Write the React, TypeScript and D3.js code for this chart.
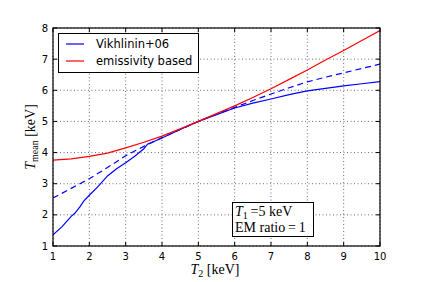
import * as d3 from "d3";

// T2 values (keV) and mean temperatures
const vikhX = [1, 1.25, 1.5, 1.6, 1.75, 1.85, 2, 2.25, 2.5, 2.75, 3, 3.25, 3.5, 3.6, 4, 4.5, 5, 5.5, 6, 6.5, 7, 7.5, 8, 8.5, 9, 9.5, 10];
const vikhSolid = [1.36, 1.62, 1.95, 2.05, 2.27, 2.45, 2.63, 2.92, 3.25, 3.48, 3.67, 3.88, 4.12, 4.27, 4.47, 4.74, 5.0, 5.22, 5.43, 5.59, 5.72, 5.86, 5.98, 6.06, 6.14, 6.21, 6.28];

const dashX = [1, 1.5, 2, 2.5, 3, 3.5, 4, 4.5, 5, 5.5, 6, 6.5, 7, 7.5, 8, 8.5, 9, 9.5, 10];
const vikhDashed = [2.54, 2.85, 3.16, 3.52, 3.9, 4.2, 4.48, 4.74, 5.0, 5.23, 5.45, 5.67, 5.88, 6.08, 6.27, 6.42, 6.56, 6.7, 6.84];

const emisX = [1, 1.5, 2, 2.5, 3, 3.5, 4, 4.5, 5, 5.5, 6, 6.5, 7, 7.5, 8, 8.5, 9, 9.5, 10];
const emissivity = [3.76, 3.8, 3.88, 3.98, 4.15, 4.33, 4.53, 4.76, 5.0, 5.25, 5.5, 5.77, 6.05, 6.35, 6.65, 6.97, 7.28, 7.6, 7.92];

const xTicks = [1, 2, 3, 4, 5, 6, 7, 8, 9, 10];
const yTicks = [1, 2, 3, 4, 5, 6, 7, 8];

const legendItems = [
  { label: "Vikhlinin+06", color: "#0000ff" },
  { label: "emissivity based", color: "#ff0000" },
];

const W = 423;
const H = 282;
const m = { left: 53, right: 43, top: 28, bottom: 36 };

export default function App() {
  const x = d3.scaleLinear().domain([1, 10]).range([m.left, W - m.right]);
  const y = d3.scaleLinear().domain([1, 8]).range([H - m.bottom, m.top]);
  const line = d3
    .line<[number, number]>()
    .x((d) => x(d[0]))
    .y((d) => y(d[1]));

  const pts = (xs: number[], ys: number[]) =>
    xs.map((v, i) => [v, ys[i]] as [number, number]);

  const sans = "'DejaVu Sans', sans-serif";
  const serif = "'Liberation Serif', 'DejaVu Serif', serif";
  const x0 = m.left;
  const x1 = W - m.right;
  const y0 = H - m.bottom;
  const y1 = m.top;

  return (
    <div style={{ position: "fixed", left: 0, top: 0 }}>
      <svg width={W} height={H} style={{ display: "block", background: "#fff" }}>
        <defs>
          <clipPath id="plot">
            <rect x={x0} y={y1} width={x1 - x0} height={y0 - y1} />
          </clipPath>
        </defs>

        {/* grid */}
        {xTicks.map((t) => (
          <line key={"gx" + t} x1={x(t)} x2={x(t)} y1={y1} y2={y0} stroke="#333" strokeWidth={0.7} strokeDasharray="1,2.5" />
        ))}
        {yTicks.map((t) => (
          <line key={"gy" + t} x1={x0} x2={x1} y1={y(t)} y2={y(t)} stroke="#333" strokeWidth={0.7} strokeDasharray="1,2.5" />
        ))}

        {/* curves */}
        <g clipPath="url(#plot)" fill="none" strokeWidth={1.2}>
          <path d={line(pts(dashX, vikhDashed)) ?? ""} stroke="#0000ff" strokeDasharray="6,4" />
          <path d={line(pts(vikhX, vikhSolid)) ?? ""} stroke="#0000ff" />
          <path d={line(pts(emisX, emissivity)) ?? ""} stroke="#ff0000" />
        </g>

        {/* ticks, inward on all sides */}
        {xTicks.map((t) => (
          <g key={"tx" + t}>
            <line x1={x(t)} x2={x(t)} y1={y0} y2={y0 - 4} stroke="#000" />
            <line x1={x(t)} x2={x(t)} y1={y1} y2={y1 + 4} stroke="#000" />
            <text x={x(t)} y={y0 + 14} textAnchor="middle" fontFamily={sans} fontSize={10}>
              {t}
            </text>
          </g>
        ))}
        {yTicks.map((t) => (
          <g key={"ty" + t}>
            <line x1={x0} x2={x0 + 4} y1={y(t)} y2={y(t)} stroke="#000" />
            <line x1={x1} x2={x1 - 4} y1={y(t)} y2={y(t)} stroke="#000" />
            <text x={x0 - 5} y={y(t) + 3.5} textAnchor="end" fontFamily={sans} fontSize={10}>
              {t}
            </text>
          </g>
        ))}

        <rect x={x0} y={y1} width={x1 - x0} height={y0 - y1} fill="none" stroke="#000" strokeWidth={1.2} />

        {/* axis labels */}
        <text x={215} y={274} textAnchor="middle" fontFamily={serif} fontSize={14}>
          <tspan fontStyle="italic">T</tspan>
          <tspan fontSize={10} dy={3}>2</tspan>
          <tspan dy={-3}> [keV]</tspan>
        </text>
        <text transform={`translate(35,${(y0 + y1) / 2}) rotate(-90)`} textAnchor="middle" fontFamily={serif} fontSize={14}>
          <tspan fontStyle="italic">T</tspan>
          <tspan fontSize={10} dy={3}>mean</tspan>
          <tspan dy={-3}> [keV]</tspan>
        </text>

        {/* legend */}
        <rect x={58.5} y={33.5} width={140} height={39} fill="#fff" stroke="#000" strokeWidth={1} />
        {legendItems.map((d, i) => (
          <g key={d.label}>
            <line x1={66} x2={84} y1={44 + i * 17} y2={44 + i * 17} stroke={d.color} strokeWidth={1.2} />
            <text x={96} y={48 + i * 17} fontFamily={sans} fontSize={11.5}>
              {d.label}
            </text>
          </g>
        ))}

        {/* annotation */}
        <rect x={232.5} y={202.5} width={81} height={34} fill="#fff" stroke="#000" strokeWidth={1} />
        <text x={235} y={216} fontFamily={serif} fontSize={14}>
          <tspan fontStyle="italic">T</tspan>
          <tspan fontSize={10} dy={3}>1</tspan>
          <tspan dy={-3}>{"\u2009=5 keV"}</tspan>
        </text>
        <text x={235} y={232} fontFamily={serif} fontSize={14}>
          {"EM ratio\u2009=\u20091"}
        </text>
      </svg>
    </div>
  );
}
